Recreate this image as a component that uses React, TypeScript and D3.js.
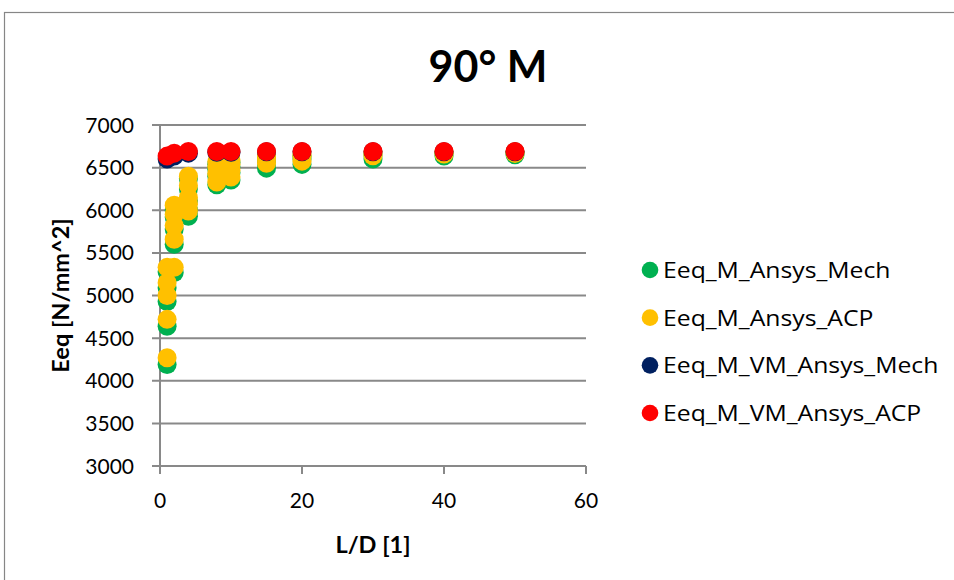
import React from "react";
import * as d3 from "d3";

const title = "90° M";
const xLabel = "L/D [1]";
const yLabel = "Eeq [N/mm^2]";
const xTicks = [0, 20, 40, 60];
const yTicks = [3000, 3500, 4000, 4500, 5000, 5500, 6000, 6500, 7000];

const seriesNames = [
  "Eeq_M_Ansys_Mech",
  "Eeq_M_Ansys_ACP",
  "Eeq_M_VM_Ansys_Mech",
  "Eeq_M_VM_Ansys_ACP",
];
const seriesColors = ["#00b050", "#ffc000", "#002060", "#ff0000"];

const mechX = [1, 1, 1, 1, 1, 2, 2, 2, 2, 2, 4, 4, 4, 4, 4, 8, 8, 8, 8, 10, 10, 10, 10, 15, 15, 15, 20, 20, 20, 30, 30, 40, 40, 50, 50];
const mechY = [4190, 4640, 4930, 5090, 5280, 5270, 5600, 5780, 5920, 6000, 5930, 6000, 6110, 6250, 6370, 6300, 6400, 6480, 6540, 6355, 6440, 6510, 6560, 6494, 6560, 6610, 6538, 6600, 6640, 6600, 6650, 6635, 6665, 6650, 6675];

const acpX = [1, 1, 1, 1, 1, 2, 2, 2, 2, 2, 4, 4, 4, 4, 4, 8, 8, 8, 8, 10, 10, 10, 10, 15, 15, 15, 20, 20, 20, 30, 30, 40, 40, 50, 50];
const acpY = [4270, 4720, 5000, 5150, 5330, 5330, 5660, 5820, 5950, 6060, 5990, 6070, 6150, 6290, 6400, 6330, 6430, 6510, 6570, 6390, 6470, 6540, 6590, 6550, 6600, 6640, 6576, 6630, 6660, 6640, 6670, 6659, 6680, 6667, 6685];

const vmX = [1, 2, 4, 8, 10, 15, 20, 30, 40, 50];
const vmMechY = [6600, 6635, 6670, 6680, 6680, 6685, 6685, 6685, 6685, 6685];
const vmAcpY = [6635, 6670, 6690, 6690, 6690, 6690, 6690, 6690, 6690, 6690];

const FONT = "Lato, 'Open Sans', sans-serif";
const LFONT = "'Open Sans', Lato, sans-serif";

export default function App() {
  const W = 954;
  const H = 580;
  const x = d3.scaleLinear().domain([0, 60]).range([160, 586]);
  const y = d3.scaleLinear().domain([3000, 7000]).range([466, 125]);
  const grid = "#898989";

  const series = [
    { xs: mechX, ys: mechY },
    { xs: acpX, ys: acpY },
    { xs: vmX, ys: vmMechY },
    { xs: vmX, ys: vmAcpY },
  ];

  const legendY = d3.scalePoint<number>().domain([0, 1, 2, 3]).range([270, 413]);

  return (
    <svg
      width={W}
      height={H}
      style={{ position: "absolute", left: 0, top: 0, background: "#fff" }}
    >
      <rect x={0} y={0} width={W} height={H} fill="#fff" />
      <rect x={4.5} y={12.5} width={W + 10} height={H + 10} fill="none" stroke="#868686" strokeWidth={1.2} />
      <text x={488} y={82} textAnchor="middle" fontFamily={FONT} fontWeight={700} fontSize={43}>
        {title}
      </text>
      {yTicks.map((t) => (
        <g key={"y" + t}>
          <line x1={152} x2={x(60)} y1={y(t)} y2={y(t)} stroke={grid} strokeWidth={2} />
          <text x={134} y={y(t)} dy="0.36em" textAnchor="end" fontFamily={FONT} fontSize={21}>
            {t}
          </text>
        </g>
      ))}
      <line x1={x(0)} x2={x(0)} y1={y(7000)} y2={y(3000) + 8} stroke={grid} strokeWidth={2} />
      {xTicks.map((t) => (
        <g key={"x" + t}>
          <line x1={x(t)} x2={x(t)} y1={y(3000)} y2={y(3000) + 8} stroke={grid} strokeWidth={2} />
          <text x={x(t)} y={y(3000) + 42} textAnchor="middle" fontFamily={FONT} fontSize={21}>
            {t}
          </text>
        </g>
      ))}
      <text x={373} y={553} textAnchor="middle" fontFamily={FONT} fontWeight={700} fontSize={23.5}>
        {xLabel}
      </text>
      <text
        transform={`translate(69,${(y(7000) + y(3000)) / 2}) rotate(-90)`}
        textAnchor="middle"
        fontFamily={FONT}
        fontWeight={700}
        fontSize={23.5}
      >
        {yLabel}
      </text>
      {series.map((s, si) => (
        <g key={"s" + si}>
          {s.xs.map((xv, i) => (
            <circle key={i} cx={x(xv)} cy={y(s.ys[i])} r={9.5} fill={seriesColors[si]} />
          ))}
        </g>
      ))}
      {seriesNames.map((n, i) => (
        <g key={"l" + i}>
          <circle cx={650} cy={legendY(i)} r={8.3} fill={seriesColors[i]} />
          <text
            transform={`translate(663,${legendY(i)}) scale(1.1,1)`}
            dy="0.36em"
            fontFamily={LFONT}
            fontSize={22.5}
          >
            {n}
          </text>
        </g>
      ))}
    </svg>
  );
}
